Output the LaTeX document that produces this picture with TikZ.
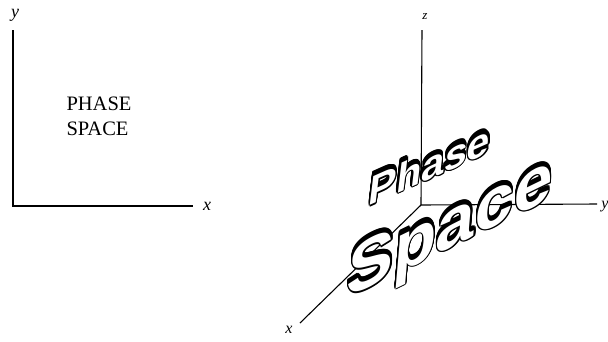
\documentclass[tikz,border=0pt]{standalone}
\usepackage{fontspec}
\setmainfont{Liberation Serif}
\newfontfamily\wordfont{Liberation Sans}
\tikzset{
  x=1pt, y=-1pt,
  axisthick/.style={line width=1.8pt, line cap=butt},
  axisthin/.style={line width=1.1pt},
  axlabel/.style={font=\fontsize{16}{16}\selectfont\itshape, inner sep=0pt},
  wordstyle/.style={inner sep=0pt, rotate=#1, xslant=0.6, xscale=1.25},
}
\newcommand{\solidword}[6]{% name, x, y, angle, size, text
  \foreach \ex [count=\ei] in {0,1,2,3,4}{
    \foreach \ang [count=\ai] in {0,45,...,315}{
      \node[wordstyle=#4, text=black, font=\fontsize{#5}{#5}\wordfont\bfseries]
        (#1-shadow-\ei-\ai) at ({#2+1.3*cos(\ang)}, {#3+1.3*sin(\ang)-\ex}) {#6};
    }
  }
  \node[wordstyle=#4, text=white, font=\fontsize{#5}{#5}\wordfont\bfseries] (#1) at (#2,#3) {#6};
}
\begin{document}
\begin{tikzpicture}
\useasboundingbox (0,0) rectangle (608,341);
% left diagram
\coordinate (lo) at (13,206);
\coordinate (lytop) at (13,30);
\coordinate (lxend) at (193,206);
\draw[axisthick] (lytop) -- (lo) -- (lxend);
\node[axlabel, font=\fontsize{18}{18}\selectfont\itshape] (ly) at (15,15) {y};
\node[axlabel, font=\fontsize{18}{18}\selectfont\itshape] (lx) at (207,206) {x};
\node[align=left, inner sep=0pt, font=\fontsize{20.5}{25}\selectfont] (ps) at (99,116) {PHASE\\SPACE};
% right diagram
\coordinate (ro) at (421,205);
\coordinate (rz) at (422,30);
\coordinate (ry) at (597,204);
\coordinate (rx) at (300,323);
\draw[axisthin] (rz) -- (ro) -- (ry);
\draw[axisthin] (ro) -- (rx);
\node[axlabel, font=\fontsize{13}{13}\selectfont\itshape] (rzl) at (425,17) {z};
\node[axlabel] (ryl) at (605,207) {y};
\node[axlabel] (rxl) at (289,330) {x};
\solidword{phase}{430}{165}{24}{36}{Phase}
\solidword{space}{450}{231}{26}{62}{Space}
\end{tikzpicture}
\end{document}
